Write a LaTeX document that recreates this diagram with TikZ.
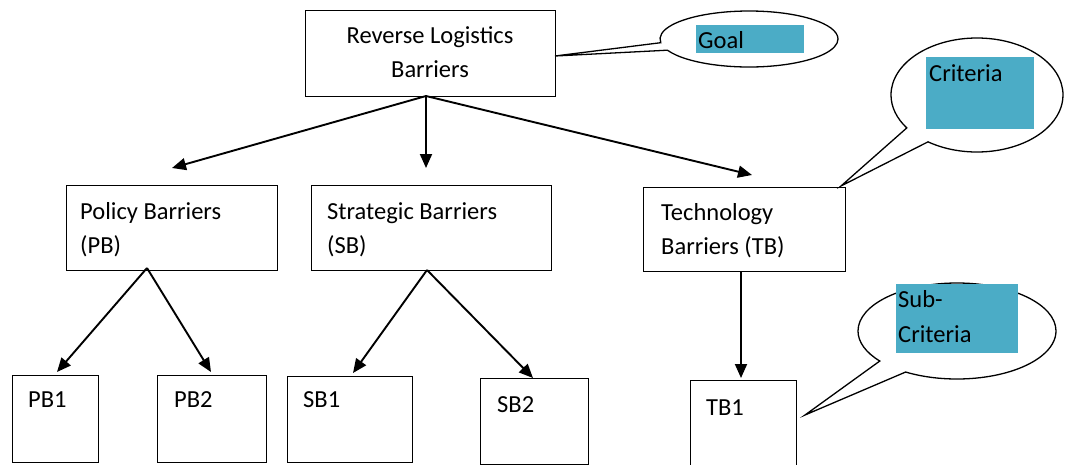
\documentclass[tikz,border=0pt]{standalone}
\usepackage{fontspec}
\setmainfont{Carlito}
\usetikzlibrary{arrows.meta,shapes.callouts}
\definecolor{accent}{HTML}{4BACC6}
\tikzset{
  box/.style={draw, line width=1.3pt, rectangle, inner sep=0pt, anchor=north west},
  link/.style={line width=1.9pt, -{Triangle[length=14pt,width=12pt]}},
  lbl/.style={anchor=base west, inner sep=0pt, font=\fontsize{24.5}{34}\selectfont},
  clbl/.style={anchor=base, inner sep=0pt, font=\fontsize{24.5}{34}\selectfont},
  bubble/.style={draw, fill=white, line width=1.3pt, ellipse callout, inner sep=0pt},
  tag/.style={fill=accent, inner sep=0pt, anchor=north west},
}
\begin{document}
\begin{tikzpicture}[x=1pt, y=-1pt]
  \useasboundingbox (0,0) rectangle (1066,464);

  % boxes of the hierarchy
  \node[box, minimum width=250pt, minimum height=86pt] (rl)  at (305,10) {};
  \node[box, minimum width=211pt, minimum height=85pt] (pb)  at (66,185) {};
  \node[box, minimum width=240pt, minimum height=85pt] (sb)  at (311,185) {};
  \node[box, minimum width=202pt, minimum height=84pt] (tb)  at (643,187) {};
  \node[box, minimum width=86pt,  minimum height=87pt] (pb1) at (12,375) {};
  \node[box, minimum width=109pt, minimum height=87pt] (pb2) at (157,375) {};
  \node[box, minimum width=125pt, minimum height=86pt] (sb1) at (287,376) {};
  \node[box, minimum width=108pt, minimum height=86pt] (sb2) at (480,378) {};
  \node[box, minimum width=106pt, minimum height=90pt] (tb1) at (690,380) {};

  % box texts
  \node[clbl] (rlt1) at (430,43) {Reverse Logistics};
  \node[clbl] (rlt2) at (430,77) {Barriers};
  \node[lbl] (pbt1) at (80,219) {Policy Barriers};
  \node[lbl] (pbt2) at (80,253) {(PB)};
  \node[lbl] (sbt1) at (327,219) {Strategic Barriers};
  \node[lbl] (sbt2) at (327,253) {(SB)};
  \node[lbl] (tbt1) at (661,220) {Technology};
  \node[lbl] (tbt2) at (661,254) {Barriers (TB)};
  \node[lbl] (pb1t) at (28,407) {PB1};
  \node[lbl] (pb2t) at (174,407) {PB2};
  \node[lbl] (sb1t) at (303,407) {SB1};
  \node[lbl] (sb2t) at (497,412) {SB2};
  \node[lbl] (tb1t) at (706,415) {TB1};

  % arrow ends
  \coordinate (rlo) at (426,96);
  \coordinate (pbin) at (172,168);
  \coordinate (sbin) at (426,168);
  \coordinate (tbin) at (752,175);
  \coordinate (pbo) at (147,268);
  \coordinate (sbo) at (427,270);
  \coordinate (tbo) at (741,271);
  \coordinate (pb1in) at (57,372);
  \coordinate (pb2in) at (211,372);
  \coordinate (sb1in) at (353,373);
  \coordinate (sb2in) at (533,378);
  \coordinate (tb1in) at (741,378);

  \draw[link] (rlo) -- (pbin);
  \draw[link] (rlo) -- (sbin);
  \draw[link] (rlo) -- (tbin);
  \draw[link] (pbo) -- (pb1in);
  \draw[link] (pbo) -- (pb2in);
  \draw[link] (sbo) -- (sb1in);
  \draw[link] (sbo) -- (sb2in);
  \draw[link] (tbo) -- (tb1in);

  % callout tips
  \coordinate (gtip) at (555,56);
  \coordinate (ctip) at (841,186);
  \coordinate (stip) at (805,415);

  % callouts
  \node[bubble, minimum width=178pt, minimum height=56pt,
        callout absolute pointer={(gtip)}, callout pointer arc=16] (goalb) at (749,39) {};
  \node[bubble, minimum width=172pt, minimum height=114pt,
        callout absolute pointer={(ctip)}, callout pointer arc=20] (critb) at (977,95) {};
  \node[bubble, minimum width=198pt, minimum height=96pt,
        callout absolute pointer={(stip)}, callout pointer arc=20] (subb) at (957,331) {};

  % coloured labels in the callouts
  \node[tag, minimum width=108pt, minimum height=28pt] (goalt) at (696,25) {};
  \node[tag, minimum width=108pt, minimum height=72pt] (critt) at (926,57) {};
  \node[tag, minimum width=122pt, minimum height=69pt] (subt) at (896,284) {};
  \node[lbl] (goall) at (698,48) {Goal};
  \node[lbl] (critl) at (929,81) {Criteria};
  \node[lbl] (subl1) at (898,307) {Sub-};
  \node[lbl] (subl2) at (898,342) {Criteria};
\end{tikzpicture}
\end{document}
